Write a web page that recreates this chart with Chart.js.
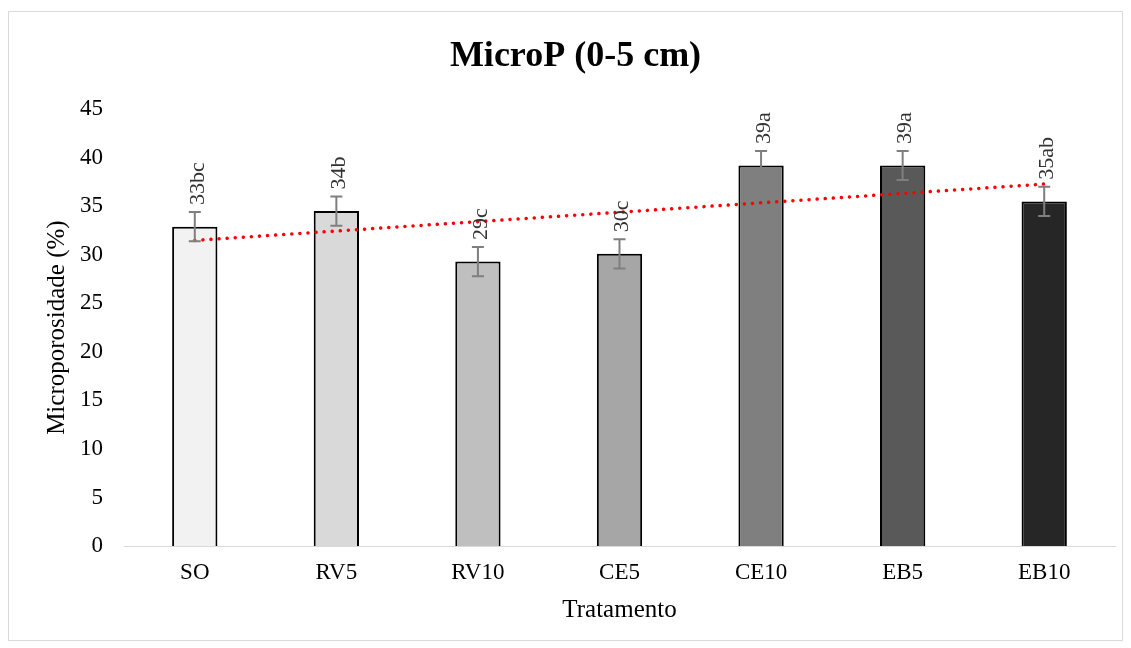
<!DOCTYPE html>
<html lang="pt">
<head>
    <meta charset="UTF-8">
    <title>MicroP (0-5 cm)</title>
    <script src="https://cdn.jsdelivr.net/npm/chart.js"></script>
    <style>
        body { margin: 0; background: #fff; }
        #wrap { width: 1131px; height: 648px; }
    </style>
</head>
<body>
    <div id="wrap"><canvas id="microChart" width="1131" height="648"></canvas></div>

    <script>
        // data
        const tratamentos = ['SO', 'RV5', 'RV10', 'CE5', 'CE10', 'EB5', 'EB10'];
        const microporosidade = [32.9, 34.5, 29.3, 30.1, 39.2, 39.2, 35.5];
        const erro = [1.5, 1.5, 1.5, 1.5, 1.5, 1.5, 1.5];
        const letras = ['33bc', '34b', '29c', '30c', '39a', '39a', '35ab'];
        const yTicks = [0, 5, 10, 15, 20, 25, 30, 35, 40, 45];
        const barColors = ['#f2f2f2', '#d9d9d9', '#bfbfbf', '#a6a6a6', '#7f7f7f', '#595959', '#262626'];

        // linear trend line (least squares, like the spreadsheet trendline)
        function trend(vals) {
            const n = vals.length;
            const mx = (n + 1) / 2;
            const my = vals.reduce((a, b) => a + b, 0) / n;
            let sxy = 0, sxx = 0;
            vals.forEach((v, i) => { sxy += (i + 1 - mx) * (v - my); sxx += (i + 1 - mx) ** 2; });
            const b = sxy / sxx;
            return vals.map((v, i) => my + b * (i + 1 - mx));
        }

        const serif = "'Liberation Serif', 'Times New Roman', serif";

        const extras = {
            id: 'extras',
            beforeDraw(chart) {
                const ctx = chart.ctx;
                ctx.save();
                ctx.fillStyle = '#fff';
                ctx.fillRect(0, 0, chart.width, chart.height);
                ctx.strokeStyle = '#d9d9d9';
                ctx.lineWidth = 1;
                ctx.strokeRect(8.5, 11.5, 1114, 629);
                ctx.restore();
            },
            afterDatasetsDraw(chart) {
                const ctx = chart.ctx;
                const y = chart.scales.y;
                const meta = chart.getDatasetMeta(0);
                ctx.save();
                meta.data.forEach((bar, i) => {
                    const x = bar.x;
                    const top = y.getPixelForValue(microporosidade[i] + erro[i]);
                    const bot = y.getPixelForValue(microporosidade[i] - erro[i]);
                    ctx.strokeStyle = '#7f7f7f';
                    ctx.lineWidth = 2;
                    ctx.beginPath();
                    ctx.moveTo(x, top); ctx.lineTo(x, bot);
                    ctx.moveTo(x - 6, top); ctx.lineTo(x + 6, top);
                    ctx.moveTo(x - 6, bot); ctx.lineTo(x + 6, bot);
                    ctx.stroke();

                    ctx.save();
                    ctx.translate(x, top - 7);
                    ctx.rotate(-Math.PI / 2);
                    ctx.fillStyle = '#333';
                    ctx.font = '22px ' + serif;
                    ctx.textAlign = 'left';
                    ctx.textBaseline = 'middle';
                    ctx.fillText(letras[i], 0, 3);
                    ctx.restore();
                });
                ctx.restore();
            }
        };

        new Chart(document.getElementById('microChart'), {
            data: {
                labels: tratamentos,
                datasets: [{
                    type: 'bar',
                    data: microporosidade,
                    backgroundColor: barColors,
                    borderColor: '#000',
                    borderWidth: 2,
                    categoryPercentage: 1,
                    barPercentage: 0.32,
                    order: 2
                }, {
                    type: 'line',
                    data: trend(microporosidade),
                    borderColor: '#ff0000',
                    borderWidth: 3.5,
                    borderDash: [0.1, 8],
                    borderCapStyle: 'round',
                    pointRadius: 0,
                    fill: false,
                    order: 1
                }]
            },
            options: {
                responsive: false,
                animation: false,
                layout: { padding: { left: 36, right: 16, top: 0, bottom: 0 } },
                plugins: {
                    legend: { display: false },
                    tooltip: { enabled: false },
                    title: {
                        display: true,
                        text: 'MicroP (0-5 cm)',
                        color: '#000',
                        font: { family: serif, size: 36, weight: 'bold' },
                        padding: { top: 35, bottom: 31 }
                    }
                },
                scales: {
                    x: {
                        grid: { display: false, drawTicks: false },
                        border: { color: '#d9d9d9', width: 1 },
                        ticks: { color: '#000', font: { family: serif, size: 23 }, padding: 13 },
                        title: {
                            display: true, text: 'Tratamento', color: '#000',
                            font: { family: serif, size: 25 }, padding: { bottom: 23 }
                        },
                        afterFit(s) { s.height = 102; }
                    },
                    y: {
                        min: 0, max: 45,
                        afterBuildTicks(s) { s.ticks = yTicks.map(v => ({ value: v })); },
                        grid: { display: false, drawTicks: false },
                        border: { display: false },
                        ticks: { color: '#000', font: { family: serif, size: 23 }, padding: 21 },
                        title: {
                            display: true, text: 'Microporosidade (%)', color: '#000',
                            font: { family: serif, size: 25 }, padding: { top: 6 }
                        },
                        afterFit(s) { s.width = 88; }
                    }
                }
            },
            plugins: [extras]
        });
    </script>
</body>
</html>
